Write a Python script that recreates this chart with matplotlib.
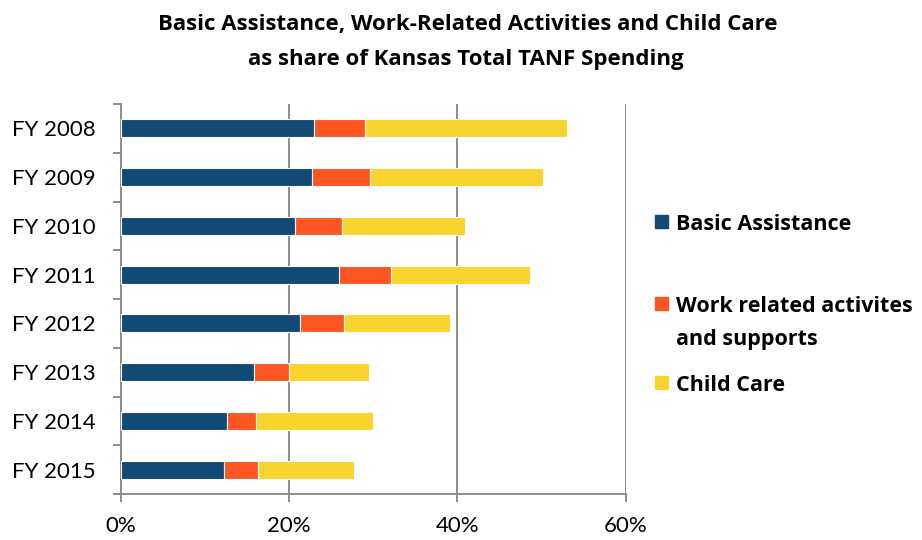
import numpy as np
import matplotlib
matplotlib.use("Agg")
import matplotlib.pyplot as plt
from matplotlib.patches import Rectangle
from matplotlib.ticker import FuncFormatter, MultipleLocator

plt.rcParams['font.family'] = ['Lato', 'DejaVu Sans']

years = ["FY 2008", "FY 2009", "FY 2010", "FY 2011",
         "FY 2012", "FY 2013", "FY 2014", "FY 2015"]
basic = [23.0, 22.8, 20.7, 26.0, 21.3, 15.9, 12.6, 12.3]
work = [6.1, 6.8, 5.6, 6.1, 5.3, 4.1, 3.5, 4.0]
child = [23.9, 20.6, 14.6, 16.6, 12.6, 9.5, 13.9, 11.5]
series = ["Basic Assistance", "Work related activites\nand supports", "Child Care"]
colors = ["#124A76", "#FE5622", "#FAD42E"]

fig = plt.figure(figsize=(9.22, 5.4), dpi=100)
ax = fig.add_axes([120.5 / 922, 1 - 494 / 540, (625.5 - 120.5) / 922, 390 / 540])

y = np.arange(len(years))
left = np.zeros(len(years))
for vals, c in zip([basic, work, child], colors):
    ax.barh(y, vals, left=left, height=0.37, color=c,
            edgecolor="white", linewidth=0.8, zorder=3)
    left += np.array(vals)

ax.set_xlim(0, 60)
ax.set_ylim(len(years) - 0.5, -0.5)
ax.xaxis.set_major_locator(MultipleLocator(20))
ax.xaxis.set_major_formatter(FuncFormatter(lambda v, p: f"{v:.0f}%"))
ax.grid(axis="x", color="#8C8C8C", linewidth=1.4, zorder=0)

ax.set_yticks(y)
ax.set_yticklabels(years)
ax.set_yticks(np.arange(len(years) + 1) - 0.5, minor=True)
ax.tick_params(axis="y", which="major", length=0, pad=18, labelsize=16)
ax.tick_params(axis="y", which="minor", length=6, width=1.4, color="#8C8C8C")
ax.tick_params(axis="x", length=6, width=1.4, color="#8C8C8C", pad=10,
               labelsize=16)

for s in ["top", "right"]:
    ax.spines[s].set_visible(False)
for s in ["left", "bottom"]:
    ax.spines[s].set_color("#8C8C8C")
    ax.spines[s].set_linewidth(1.4)

bold = dict(family=["Open Sans", "DejaVu Sans"], fontweight="bold")
fig.text(468 / 922, 1 - 30 / 540, "Basic Assistance, Work-Related Activities and Child Care",
         ha="center", va="baseline", fontsize=16, **bold)
fig.text(466 / 922, 1 - 65 / 540, "as share of Kansas Total TANF Spending",
         ha="center", va="baseline", fontsize=16, **bold)

# legend
leg_y = [221, 303, 382]
for name, c, ly in zip(series, colors, leg_y):
    fig.patches.append(Rectangle((655 / 922, 1 - (ly + 6.5) / 540), 13 / 922, 13 / 540,
                                 transform=fig.transFigure, color=c))
    fig.text(676 / 922, 1 - (ly - 7) / 540, name, ha="left", va="top",
             fontsize=15.5, linespacing=1.75, **bold)

fig.savefig("out.png", dpi=100)
